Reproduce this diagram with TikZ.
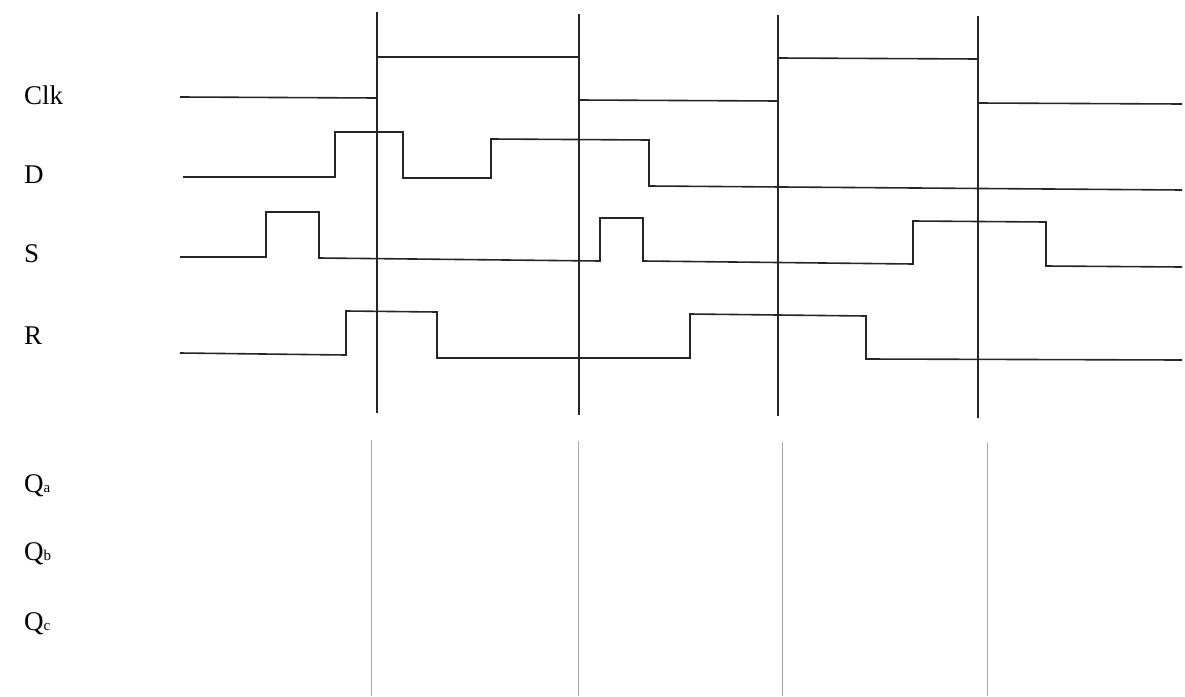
\documentclass[tikz,border=0pt]{standalone}
\usepackage{fontspec}
\setmainfont{Liberation Serif}
\begin{document}
\begin{tikzpicture}[x=1pt,y=-1pt,
  sig/.style={draw=black!85, line width=1.6pt},
  tick/.style={draw=black!85, line width=1.5pt},
  guide/.style={draw=black!35, line width=0.9pt},
  lbl/.style={anchor=west, inner sep=0pt, font=\fontsize{27}{27}\selectfont}]
\useasboundingbox (0,0) rectangle (1185,696);
% labels
\node[lbl] (clk) at (24,95) {Clk};
\node[lbl] (d) at (24,175) {D};
\node[lbl] (s) at (24,254) {S};
\node[lbl] (r) at (24,336) {R};
\node[lbl] (qa) at (24,486) {Q{\fontsize{15}{15}\selectfont a}};
\node[lbl] (qb) at (24,554) {Q{\fontsize{15}{15}\selectfont b}};
\node[lbl] (qc) at (24,624) {Q{\fontsize{15}{15}\selectfont c}};
% clock edge markers
\draw[tick] (377,12) -- (377,413);
\draw[tick] (579,14) -- (579,415);
\draw[tick] (778,15) -- (778,416);
\draw[tick] (978,16) -- (978,418);
% guide lines for outputs
\draw[guide] (371,440) -- (371,696);
\draw[guide] (578,441) -- (578,696);
\draw[guide] (782,442) -- (782,696);
\draw[guide] (987,443) -- (987,696);
% Clk
\draw[sig] (180,97) -- (377,98) -- (377,57) -- (579,57) -- (579,100) -- (778,101) -- (778,58) -- (978,59) -- (978,103) -- (1182,104);
% D
\draw[sig] (183,177) -- (335,177) -- (335,132) -- (403,132) -- (403,178) -- (491,178) -- (491,139) -- (649,140) -- (649,186) -- (1182,190);
% S
\draw[sig] (180,257) -- (266,257) -- (266,212) -- (319,212) -- (319,258) -- (600,261) -- (600,218) -- (643,218) -- (643,261) -- (913,264) -- (913,221) -- (1046,222) -- (1046,266) -- (1182,267);
% R
\draw[sig] (180,353) -- (346,355) -- (346,311) -- (437,312) -- (437,358) -- (690,358) -- (690,314) -- (866,316) -- (866,359) -- (1182,360);
\end{tikzpicture}
\end{document}
